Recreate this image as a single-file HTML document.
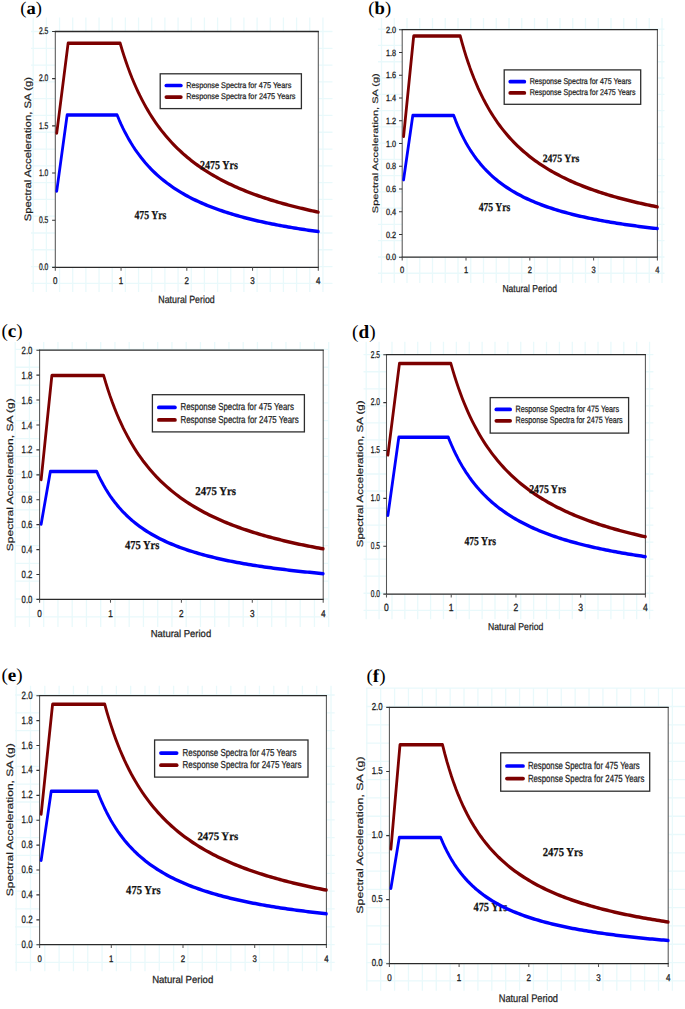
<!DOCTYPE html>
<html><head><meta charset="utf-8"><style>html,body{margin:0;padding:0;background:#fff;width:685px;height:1009px;overflow:hidden}</style></head>
<body><svg width="685" height="1009" viewBox="0 0 685 1009" style="display:block" text-rendering="geometricPrecision"><rect width="685" height="1009" fill="#fff"/><path d="M33.2 17.5V292M46.37 17.5V292M59.54 17.5V292M72.71 17.5V292M85.88 17.5V292M99.05 17.5V292M112.22 17.5V292M125.39 17.5V292M138.56 17.5V292M151.73 17.5V292M164.9 17.5V292M178.07 17.5V292M191.24 17.5V292M204.41 17.5V292M217.58 17.5V292M230.75 17.5V292M243.92 17.5V292M257.09 17.5V292M270.26 17.5V292M283.43 17.5V292M296.6 17.5V292M309.77 17.5V292M322.94 17.5V292M31 31.5H332.5M31 48.29H332.5M31 65.08H332.5M31 81.87H332.5M31 98.66H332.5M31 115.45H332.5M31 132.24H332.5M31 149.03H332.5M31 165.82H332.5M31 182.61H332.5M31 199.4H332.5M31 216.19H332.5M31 232.98H332.5M31 249.77H332.5M31 266.56H332.5M31 283.35H332.5" stroke="#e9f9fb" stroke-width="1.3" fill="none"/><rect x="55.3" y="31.5" width="263" height="235.9" fill="#fff"/><path d="M55.3 31V267.9M318.3 31V267.9" stroke="#555" stroke-width="1.05" fill="none"/><path d="M54.8 31.5H318.8M54.8 267.4H318.8" stroke="#2a2a2a" stroke-width="1.3" fill="none"/><path d="M52.1 267.4H55.3M52.1 220.22H55.3M52.1 173.04H55.3M52.1 125.86H55.3M52.1 78.68H55.3M52.1 31.5H55.3" stroke="#333" stroke-width="1.15" fill="none"/><path d="M55.3 267.4V270.8M121.05 267.4V270.8M186.8 267.4V270.8M252.55 267.4V270.8M318.3 267.4V270.8" stroke="#555" stroke-width="1.05" fill="none"/><g font-family='"Liberation Sans", sans-serif' font-size="9.6" fill="#1e1e1e" stroke="#1e1e1e" stroke-width="0.3"><text x="38.91" y="270.15" textLength="9.3" lengthAdjust="spacingAndGlyphs">0.0</text><text x="38.91" y="222.97" textLength="9.3" lengthAdjust="spacingAndGlyphs">0.5</text><text x="38.91" y="175.79" textLength="9.3" lengthAdjust="spacingAndGlyphs">1.0</text><text x="38.91" y="128.61" textLength="9.3" lengthAdjust="spacingAndGlyphs">1.5</text><text x="38.91" y="81.43" textLength="9.3" lengthAdjust="spacingAndGlyphs">2.0</text><text x="38.91" y="34.25" textLength="9.3" lengthAdjust="spacingAndGlyphs">2.5</text></g><g transform="scale(0.82,1)" font-family='"Liberation Sans", sans-serif' font-size="9.7" fill="#1e1e1e" stroke="#1e1e1e" stroke-width="0.3"><text x="67.44" y="283.84" text-anchor="middle">0</text><text x="147.62" y="283.84" text-anchor="middle">1</text><text x="227.8" y="283.84" text-anchor="middle">2</text><text x="307.99" y="283.84" text-anchor="middle">3</text><text x="388.17" y="283.84" text-anchor="middle">4</text></g><polyline transform="scale(0.8,1)" points="70.93,132.94 85.15,43.2 150.16,43.2 152.64,49.85 155.12,56.12 157.59,62.03 160.07,67.63 162.55,72.92 165.02,77.95 167.5,82.72 169.98,87.25 172.46,91.57 174.93,95.69 177.41,99.62 179.89,103.37 182.36,106.96 184.84,110.39 187.32,113.68 189.8,116.84 192.27,119.87 194.75,122.78 197.23,125.57 199.7,128.26 202.18,130.85 204.66,133.35 207.14,135.76 209.61,138.08 212.09,140.32 214.57,142.48 217.04,144.57 219.52,146.6 222,148.55 224.48,150.45 226.95,152.28 229.43,154.06 231.91,155.79 234.38,157.46 236.86,159.08 239.34,160.66 241.82,162.19 244.29,163.68 246.77,165.13 249.25,166.53 251.72,167.9 254.2,169.23 256.68,170.53 259.16,171.79 261.63,173.02 264.11,174.22 266.59,175.39 269.06,176.53 271.54,177.64 274.02,178.73 276.5,179.79 278.97,180.82 281.45,181.83 283.93,182.82 286.4,183.78 288.88,184.72 291.36,185.65 293.84,186.55 296.31,187.43 298.79,188.29 301.27,189.14 303.74,189.96 306.22,190.77 308.7,191.56 311.18,192.34 313.65,193.1 316.13,193.85 318.61,194.58 321.08,195.29 323.56,195.99 326.04,196.68 328.52,197.36 330.99,198.02 333.47,198.67 335.95,199.31 338.42,199.93 340.9,200.55 343.38,201.15 345.86,201.75 348.33,202.33 350.81,202.9 353.29,203.46 355.76,204.02 358.24,204.56 360.72,205.09 363.2,205.62 365.67,206.13 368.15,206.64 370.63,207.14 373.1,207.63 375.58,208.11 378.06,208.59 380.54,209.06 383.01,209.52 385.49,209.97 387.97,210.42 390.44,210.86 392.92,211.29 395.4,211.72 397.88,212.13" fill="none" stroke="#7c0000" stroke-width="3.5" stroke-linejoin="round" stroke-linecap="round"/><polyline transform="scale(0.8,1)" points="70.93,190.97 83.92,115.01 146.38,115.01 148.9,119.81 151.41,124.32 153.93,128.57 156.44,132.57 158.96,136.34 161.47,139.91 163.99,143.29 166.5,146.5 169.02,149.54 171.53,152.43 174.05,155.19 176.56,157.82 179.08,160.32 181.59,162.72 184.11,165.01 186.62,167.2 189.14,169.3 191.65,171.31 194.17,173.24 196.68,175.1 199.19,176.89 201.71,178.6 204.22,180.26 206.74,181.85 209.25,183.38 211.77,184.86 214.28,186.29 216.8,187.68 219.31,189.01 221.83,190.3 224.34,191.55 226.86,192.76 229.37,193.93 231.89,195.07 234.4,196.17 236.92,197.24 239.43,198.27 241.95,199.28 244.46,200.25 246.98,201.2 249.49,202.13 252.01,203.02 254.52,203.9 257.04,204.75 259.55,205.58 262.07,206.38 264.58,207.17 267.1,207.93 269.61,208.68 272.13,209.4 274.64,210.11 277.16,210.81 279.67,211.48 282.19,212.14 284.7,212.79 287.22,213.42 289.73,214.03 292.25,214.63 294.76,215.22 297.28,215.8 299.79,216.36 302.31,216.91 304.82,217.45 307.34,217.98 309.85,218.49 312.37,219 314.88,219.49 317.4,219.98 319.91,220.46 322.43,220.92 324.94,221.38 327.46,221.83 329.97,222.27 332.49,222.7 335,223.12 337.52,223.53 340.03,223.94 342.55,224.34 345.06,224.73 347.58,225.12 350.09,225.5 352.61,225.87 355.12,226.23 357.64,226.59 360.15,226.95 362.67,227.29 365.18,227.63 367.7,227.97 370.21,228.3 372.73,228.62 375.24,228.94 377.76,229.25 380.27,229.56 382.79,229.87 385.3,230.16 387.82,230.46 390.33,230.75 392.85,231.03 395.36,231.31 397.88,231.59" fill="none" stroke="#0000ff" stroke-width="3.5" stroke-linejoin="round" stroke-linecap="round"/><rect x="160.2" y="73.8" width="141.2" height="34.8" fill="#fff" stroke="#2e2e2e" stroke-width="1.3"/><line x1="166.35" y1="85.5" x2="180.85" y2="85.5" stroke="#0000ff" stroke-width="3.7" stroke-linecap="round"/><line x1="166.35" y1="97.1" x2="180.85" y2="97.1" stroke="#7c0000" stroke-width="3.7" stroke-linecap="round"/><text x="186.16" y="87.75" font-family='"Liberation Sans", sans-serif' font-size="8.28" font-weight="normal" fill="#1e1e1e" stroke="#1e1e1e" stroke-width="0.25" textLength="105.16" lengthAdjust="spacingAndGlyphs">Response Spectra for 475 Years</text><text x="186.15" y="99.35" font-family='"Liberation Sans", sans-serif' font-size="8.28" font-weight="normal" fill="#1e1e1e" stroke="#1e1e1e" stroke-width="0.25" textLength="109.36" lengthAdjust="spacingAndGlyphs">Response Spectra for 2475 Years</text><text x="200.03" y="168.79" font-family='"Liberation Serif", serif' font-size="12.14" font-weight="bold" fill="#111" stroke="#111" stroke-width="0.25" textLength="37.86" lengthAdjust="spacingAndGlyphs">2475 Yrs</text><text x="134.42" y="219.49" font-family='"Liberation Serif", serif' font-size="12.22" font-weight="bold" fill="#111" stroke="#111" stroke-width="0.25" textLength="31.97" lengthAdjust="spacingAndGlyphs">475 Yrs</text><text x="158.33" y="303.49" font-family='"Liberation Sans", sans-serif' font-size="10.38" font-weight="normal" fill="#1e1e1e" stroke="#1e1e1e" stroke-width="0.25" textLength="56.39" lengthAdjust="spacingAndGlyphs">Natural Period</text><text transform="translate(31.05,221.36) scale(0.83,1) rotate(-90)" x="0" y="0" font-family='"Liberation Sans", sans-serif' font-size="11.25" fill="#1e1e1e" stroke="#1e1e1e" stroke-width="0.25" textLength="144.41" lengthAdjust="spacingAndGlyphs">Spectral Acceleration, SA (g)</text><text x="20.23" y="13.65" font-family='"Liberation Serif", serif' font-size="17.86" fill="#000" textLength="21.63" lengthAdjust="spacingAndGlyphs">(<tspan font-weight="bold">a</tspan>)</text><path d="M381.5 18V283M394.25 18V283M407 18V283M419.75 18V283M432.5 18V283M445.25 18V283M458 18V283M470.75 18V283M483.5 18V283M496.25 18V283M509 18V283M521.75 18V283M534.5 18V283M547.25 18V283M560 18V283M572.75 18V283M585.5 18V283M598.25 18V283M611 18V283M623.75 18V283M636.5 18V283M649.25 18V283M662 18V283M378 29.2H664.5M378 45.47H664.5M378 61.74H664.5M378 78.01H664.5M378 94.28H664.5M378 110.55H664.5M378 126.82H664.5M378 143.09H664.5M378 159.36H664.5M378 175.63H664.5M378 191.9H664.5M378 208.17H664.5M378 224.44H664.5M378 240.71H664.5M378 256.98H664.5M378 273.25H664.5" stroke="#e9f9fb" stroke-width="1.3" fill="none"/><rect x="402.2" y="29.7" width="255.2" height="227.5" fill="#fff"/><path d="M402.2 29.2V257.7M657.4 29.2V257.7" stroke="#555" stroke-width="1.05" fill="none"/><path d="M401.7 29.7H657.9M401.7 257.2H657.9" stroke="#2a2a2a" stroke-width="1.3" fill="none"/><path d="M399 257.2H402.2M399 234.45H402.2M399 211.7H402.2M399 188.95H402.2M399 166.2H402.2M399 143.45H402.2M399 120.7H402.2M399 97.95H402.2M399 75.2H402.2M399 52.45H402.2M399 29.7H402.2" stroke="#333" stroke-width="1.15" fill="none"/><path d="M402.2 257.2V260.6M466 257.2V260.6M529.8 257.2V260.6M593.6 257.2V260.6M657.4 257.2V260.6" stroke="#555" stroke-width="1.05" fill="none"/><g font-family='"Liberation Sans", sans-serif' font-size="9" fill="#1e1e1e" stroke="#1e1e1e" stroke-width="0.3"><text x="385.88" y="260.34" textLength="10.15" lengthAdjust="spacingAndGlyphs">0.0</text><text x="385.88" y="237.59" textLength="10.15" lengthAdjust="spacingAndGlyphs">0.2</text><text x="385.88" y="214.84" textLength="10.15" lengthAdjust="spacingAndGlyphs">0.4</text><text x="385.88" y="192.09" textLength="10.15" lengthAdjust="spacingAndGlyphs">0.6</text><text x="385.88" y="169.34" textLength="10.15" lengthAdjust="spacingAndGlyphs">0.8</text><text x="385.88" y="146.59" textLength="10.15" lengthAdjust="spacingAndGlyphs">1.0</text><text x="385.88" y="123.84" textLength="10.15" lengthAdjust="spacingAndGlyphs">1.2</text><text x="385.88" y="101.09" textLength="10.15" lengthAdjust="spacingAndGlyphs">1.4</text><text x="385.88" y="78.34" textLength="10.15" lengthAdjust="spacingAndGlyphs">1.6</text><text x="385.88" y="55.59" textLength="10.15" lengthAdjust="spacingAndGlyphs">1.8</text><text x="385.88" y="32.84" textLength="10.15" lengthAdjust="spacingAndGlyphs">2.0</text></g><g transform="scale(0.82,1)" font-family='"Liberation Sans", sans-serif' font-size="9.2" fill="#1e1e1e" stroke="#1e1e1e" stroke-width="0.3"><text x="490.49" y="272.81" text-anchor="middle">0</text><text x="568.29" y="272.81" text-anchor="middle">1</text><text x="646.1" y="272.81" text-anchor="middle">2</text><text x="723.9" y="272.81" text-anchor="middle">3</text><text x="801.71" y="272.81" text-anchor="middle">4</text></g><polyline transform="scale(0.8,1)" points="504.5,136.28 517.1,36.07 575.32,36.07 577.79,43.33 580.25,50.13 582.72,56.51 585.18,62.51 587.64,68.16 590.11,73.5 592.57,78.54 595.04,83.31 597.5,87.83 599.97,92.12 602.43,96.2 604.89,100.09 607.36,103.79 609.82,107.32 612.29,110.69 614.75,113.92 617.22,117 619.68,119.96 622.14,122.79 624.61,125.51 627.07,128.12 629.54,130.63 632,133.04 634.47,135.36 636.93,137.6 639.39,139.76 641.86,141.84 644.32,143.84 646.79,145.78 649.25,147.66 651.72,149.47 654.18,151.22 656.64,152.92 659.11,154.56 661.57,156.16 664.04,157.7 666.5,159.2 668.96,160.65 671.43,162.06 673.89,163.43 676.36,164.76 678.82,166.06 681.29,167.31 683.75,168.54 686.21,169.73 688.68,170.89 691.14,172.02 693.61,173.12 696.07,174.19 698.54,175.23 701,176.25 703.46,177.25 705.93,178.22 708.39,179.16 710.86,180.09 713.32,180.99 715.79,181.87 718.25,182.73 720.71,183.57 723.18,184.4 725.64,185.2 728.11,185.99 730.57,186.76 733.04,187.51 735.5,188.25 737.96,188.97 740.43,189.68 742.89,190.37 745.36,191.05 747.82,191.72 750.29,192.37 752.75,193.01 755.21,193.63 757.68,194.25 760.14,194.85 762.61,195.44 765.07,196.02 767.54,196.59 770,197.15 772.46,197.7 774.93,198.24 777.39,198.77 779.86,199.29 782.32,199.8 784.79,200.3 787.25,200.79 789.71,201.28 792.18,201.75 794.64,202.22 797.11,202.68 799.57,203.13 802.04,203.58 804.5,204.02 806.96,204.45 809.43,204.87 811.89,205.29 814.36,205.7 816.82,206.1 819.29,206.5 821.75,206.89" fill="none" stroke="#7c0000" stroke-width="3.5" stroke-linejoin="round" stroke-linecap="round"/><polyline transform="scale(0.8,1)" points="504.5,179.62 515.99,115.47 567.11,115.47 569.65,120.86 572.2,125.86 574.75,130.51 577.29,134.83 579.84,138.88 582.39,142.66 584.93,146.21 587.48,149.54 590.03,152.68 592.57,155.65 595.12,158.45 597.67,161.1 600.21,163.61 602.76,165.99 605.3,168.26 607.85,170.41 610.4,172.46 612.94,174.42 615.49,176.29 618.04,178.08 620.58,179.79 623.13,181.43 625.68,183 628.22,184.5 630.77,185.95 633.32,187.34 635.86,188.67 638.41,189.96 640.95,191.2 643.5,192.39 646.05,193.54 648.59,194.66 651.14,195.73 653.69,196.77 656.23,197.77 658.78,198.74 661.33,199.68 663.87,200.59 666.42,201.47 668.96,202.32 671.51,203.15 674.06,203.95 676.6,204.73 679.15,205.49 681.7,206.23 684.24,206.94 686.79,207.64 689.34,208.31 691.88,208.97 694.43,209.61 696.98,210.24 699.52,210.84 702.07,211.44 704.61,212.01 707.16,212.58 709.71,213.13 712.25,213.66 714.8,214.18 717.35,214.69 719.89,215.19 722.44,215.68 724.99,216.16 727.53,216.62 730.08,217.07 732.63,217.52 735.17,217.95 737.72,218.38 740.26,218.8 742.81,219.2 745.36,219.6 747.9,219.99 750.45,220.37 753,220.75 755.54,221.12 758.09,221.48 760.64,221.83 763.18,222.17 765.73,222.51 768.28,222.85 770.82,223.17 773.37,223.49 775.91,223.81 778.46,224.12 781.01,224.42 783.55,224.72 786.1,225.01 788.65,225.29 791.19,225.58 793.74,225.85 796.29,226.12 798.83,226.39 801.38,226.65 803.93,226.91 806.47,227.17 809.02,227.42 811.56,227.66 814.11,227.9 816.66,228.14 819.2,228.38 821.75,228.61" fill="none" stroke="#0000ff" stroke-width="3.5" stroke-linejoin="round" stroke-linecap="round"/><rect x="504.2" y="69.9" width="136.5" height="34.4" fill="#fff" stroke="#2e2e2e" stroke-width="1.3"/><line x1="510.25" y1="81.7" x2="524.35" y2="81.7" stroke="#0000ff" stroke-width="3.7" stroke-linecap="round"/><line x1="510.25" y1="92.95" x2="524.35" y2="92.95" stroke="#7c0000" stroke-width="3.7" stroke-linecap="round"/><text x="529.68" y="84" font-family='"Liberation Sans", sans-serif' font-size="8.43" font-weight="normal" fill="#1e1e1e" stroke="#1e1e1e" stroke-width="0.25" textLength="101.63" lengthAdjust="spacingAndGlyphs">Response Spectra for 475 Years</text><text x="529.67" y="95.25" font-family='"Liberation Sans", sans-serif' font-size="8.43" font-weight="normal" fill="#1e1e1e" stroke="#1e1e1e" stroke-width="0.25" textLength="105.83" lengthAdjust="spacingAndGlyphs">Response Spectra for 2475 Years</text><text x="542.64" y="161.99" font-family='"Liberation Serif", serif' font-size="11.24" font-weight="bold" fill="#111" stroke="#111" stroke-width="0.25" textLength="36.74" lengthAdjust="spacingAndGlyphs">2475 Yrs</text><text x="478.72" y="210.99" font-family='"Liberation Serif", serif' font-size="12.22" font-weight="bold" fill="#111" stroke="#111" stroke-width="0.25" textLength="31.56" lengthAdjust="spacingAndGlyphs">475 Yrs</text><text x="502.45" y="292.39" font-family='"Liberation Sans", sans-serif' font-size="10.09" font-weight="normal" fill="#1e1e1e" stroke="#1e1e1e" stroke-width="0.25" textLength="54.55" lengthAdjust="spacingAndGlyphs">Natural Period</text><text transform="translate(378.05,213.14) scale(0.73,1) rotate(-90)" x="0" y="0" font-family='"Liberation Sans", sans-serif' font-size="10.89" fill="#1e1e1e" stroke="#1e1e1e" stroke-width="0.25" textLength="139.87" lengthAdjust="spacingAndGlyphs">Spectral Acceleration, SA (g)</text><text x="368.33" y="14" font-family='"Liberation Serif", serif' font-size="17.86" fill="#000" textLength="22.85" lengthAdjust="spacingAndGlyphs">(<tspan font-weight="bold">b</tspan>)</text><path d="M15.2 342V627M29.45 342V627M43.7 342V627M57.95 342V627M72.2 342V627M86.45 342V627M100.7 342V627M114.95 342V627M129.2 342V627M143.45 342V627M157.7 342V627M171.95 342V627M186.2 342V627M200.45 342V627M214.7 342V627M228.95 342V627M243.2 342V627M257.45 342V627M271.7 342V627M285.95 342V627M300.2 342V627M314.45 342V627M328.7 342V627M15 349.4H329M15 367.23H329M15 385.06H329M15 402.89H329M15 420.72H329M15 438.55H329M15 456.38H329M15 474.21H329M15 492.04H329M15 509.87H329M15 527.7H329M15 545.53H329M15 563.36H329M15 581.19H329M15 599.02H329M15 616.85H329" stroke="#e9f9fb" stroke-width="1.3" fill="none"/><rect x="39.6" y="350.2" width="283.6" height="249.2" fill="#fff"/><path d="M39.6 349.7V599.9M323.2 349.7V599.9" stroke="#555" stroke-width="1.05" fill="none"/><path d="M39.1 350.2H323.7M39.1 599.4H323.7" stroke="#2a2a2a" stroke-width="1.3" fill="none"/><path d="M36.4 599.4H39.6M36.4 574.48H39.6M36.4 549.56H39.6M36.4 524.64H39.6M36.4 499.72H39.6M36.4 474.8H39.6M36.4 449.88H39.6M36.4 424.96H39.6M36.4 400.04H39.6M36.4 375.12H39.6M36.4 350.2H39.6" stroke="#333" stroke-width="1.15" fill="none"/><path d="M39.6 599.4V602.8M110.5 599.4V602.8M181.4 599.4V602.8M252.3 599.4V602.8M323.2 599.4V602.8" stroke="#555" stroke-width="1.05" fill="none"/><g font-family='"Liberation Sans", sans-serif' font-size="10.5" fill="#1e1e1e" stroke="#1e1e1e" stroke-width="0.3"><text x="21.61" y="602.96" textLength="10.79" lengthAdjust="spacingAndGlyphs">0.0</text><text x="21.61" y="578.04" textLength="10.79" lengthAdjust="spacingAndGlyphs">0.2</text><text x="21.61" y="553.12" textLength="10.79" lengthAdjust="spacingAndGlyphs">0.4</text><text x="21.61" y="528.2" textLength="10.79" lengthAdjust="spacingAndGlyphs">0.6</text><text x="21.61" y="503.28" textLength="10.79" lengthAdjust="spacingAndGlyphs">0.8</text><text x="21.61" y="478.36" textLength="10.79" lengthAdjust="spacingAndGlyphs">1.0</text><text x="21.61" y="453.44" textLength="10.79" lengthAdjust="spacingAndGlyphs">1.2</text><text x="21.61" y="428.52" textLength="10.79" lengthAdjust="spacingAndGlyphs">1.4</text><text x="21.61" y="403.6" textLength="10.79" lengthAdjust="spacingAndGlyphs">1.6</text><text x="21.61" y="378.68" textLength="10.79" lengthAdjust="spacingAndGlyphs">1.8</text><text x="21.61" y="353.76" textLength="10.79" lengthAdjust="spacingAndGlyphs">2.0</text></g><g transform="scale(0.82,1)" font-family='"Liberation Sans", sans-serif' font-size="10" fill="#1e1e1e" stroke="#1e1e1e" stroke-width="0.3"><text x="48.29" y="616.74" text-anchor="middle">0</text><text x="134.76" y="616.74" text-anchor="middle">1</text><text x="221.22" y="616.74" text-anchor="middle">2</text><text x="307.68" y="616.74" text-anchor="middle">3</text><text x="394.15" y="616.74" text-anchor="middle">4</text></g><polyline transform="scale(0.8,1)" points="51.45,479.41 64.83,375.49 129.53,375.49 132.27,382.92 135.02,389.87 137.76,396.38 140.51,402.51 143.25,408.27 146,413.71 148.74,418.84 151.49,423.7 154.23,428.31 156.98,432.68 159.72,436.83 162.46,440.78 165.21,444.54 167.95,448.13 170.7,451.55 173.44,454.83 176.19,457.96 178.93,460.96 181.68,463.83 184.42,466.59 187.17,469.24 189.91,471.78 192.66,474.23 195.4,476.59 198.15,478.85 200.89,481.04 203.64,483.15 206.38,485.18 209.13,487.14 211.87,489.04 214.61,490.88 217.36,492.65 220.1,494.37 222.85,496.03 225.59,497.64 228.34,499.2 231.08,500.72 233.83,502.19 236.57,503.61 239.32,505 242.06,506.34 244.81,507.65 247.55,508.92 250.3,510.16 253.04,511.36 255.79,512.54 258.53,513.68 261.27,514.79 264.02,515.87 266.76,516.93 269.51,517.95 272.25,518.96 275,519.94 277.74,520.89 280.49,521.83 283.23,522.74 285.98,523.63 288.72,524.5 291.47,525.34 294.21,526.18 296.96,526.99 299.7,527.78 302.45,528.56 305.19,529.32 307.93,530.06 310.68,530.79 313.42,531.51 316.17,532.2 318.91,532.89 321.66,533.56 324.4,534.22 327.15,534.86 329.89,535.49 332.64,536.11 335.38,536.72 338.13,537.32 340.87,537.9 343.62,538.48 346.36,539.04 349.11,539.59 351.85,540.13 354.6,540.67 357.34,541.19 360.08,541.71 362.83,542.21 365.57,542.71 368.32,543.2 371.06,543.68 373.81,544.15 376.55,544.61 379.3,545.07 382.04,545.52 384.79,545.96 387.53,546.39 390.28,546.82 393.02,547.24 395.77,547.65 398.51,548.06 401.26,548.46 404,548.85" fill="none" stroke="#7c0000" stroke-width="3.5" stroke-linejoin="round" stroke-linecap="round"/><polyline transform="scale(0.8,1)" points="51.45,524.02 62.97,471.44 120.84,471.44 123.67,476.32 126.51,480.85 129.34,485.05 132.17,488.97 135,492.63 137.83,496.05 140.66,499.26 143.5,502.27 146.33,505.11 149.16,507.79 151.99,510.32 154.82,512.72 157.65,514.99 160.49,517.14 163.32,519.19 166.15,521.14 168.98,522.99 171.81,524.76 174.64,526.45 177.47,528.06 180.31,529.61 183.14,531.09 185.97,532.5 188.8,533.86 191.63,535.17 194.46,536.42 197.3,537.63 200.13,538.79 202.96,539.91 205.79,540.99 208.62,542.03 211.45,543.03 214.28,544 217.12,544.93 219.95,545.84 222.78,546.71 225.61,547.56 228.44,548.38 231.27,549.18 234.11,549.95 236.94,550.69 239.77,551.42 242.6,552.12 245.43,552.81 248.26,553.47 251.1,554.11 253.93,554.74 256.76,555.35 259.59,555.95 262.42,556.52 265.25,557.09 268.08,557.63 270.92,558.17 273.75,558.69 276.58,559.2 279.41,559.69 282.24,560.17 285.07,560.65 287.91,561.11 290.74,561.56 293.57,562 296.4,562.42 299.23,562.84 302.06,563.25 304.9,563.65 307.73,564.05 310.56,564.43 313.39,564.8 316.22,565.17 319.05,565.53 321.88,565.88 324.72,566.23 327.55,566.57 330.38,566.9 333.21,567.22 336.04,567.54 338.87,567.85 341.71,568.16 344.54,568.46 347.37,568.75 350.2,569.04 353.03,569.32 355.86,569.6 358.69,569.87 361.53,570.14 364.36,570.4 367.19,570.66 370.02,570.92 372.85,571.17 375.68,571.41 378.52,571.65 381.35,571.89 384.18,572.12 387.01,572.35 389.84,572.58 392.67,572.8 395.51,573.01 398.34,573.23 401.17,573.44 404,573.65" fill="none" stroke="#0000ff" stroke-width="3.5" stroke-linejoin="round" stroke-linecap="round"/><rect x="152.4" y="394.7" width="152" height="37.2" fill="#fff" stroke="#2e2e2e" stroke-width="1.3"/><line x1="158.85" y1="407.4" x2="174.95" y2="407.4" stroke="#0000ff" stroke-width="3.7" stroke-linecap="round"/><line x1="158.85" y1="419.9" x2="174.95" y2="419.9" stroke="#7c0000" stroke-width="3.7" stroke-linecap="round"/><text x="180.51" y="410.3" font-family='"Liberation Sans", sans-serif' font-size="10.17" font-weight="normal" fill="#1e1e1e" stroke="#1e1e1e" stroke-width="0.25" textLength="113.32" lengthAdjust="spacingAndGlyphs">Response Spectra for 475 Years</text><text x="180.51" y="422.8" font-family='"Liberation Sans", sans-serif' font-size="10.17" font-weight="normal" fill="#1e1e1e" stroke="#1e1e1e" stroke-width="0.25" textLength="118.13" lengthAdjust="spacingAndGlyphs">Response Spectra for 2475 Years</text><text x="195.3" y="495.29" font-family='"Liberation Serif", serif' font-size="11.99" font-weight="bold" fill="#111" stroke="#111" stroke-width="0.25" textLength="40.71" lengthAdjust="spacingAndGlyphs">2475 Yrs</text><text x="124.91" y="548.89" font-family='"Liberation Serif", serif' font-size="12.22" font-weight="bold" fill="#111" stroke="#111" stroke-width="0.25" textLength="34.5" lengthAdjust="spacingAndGlyphs">475 Yrs</text><text x="150.67" y="637.39" font-family='"Liberation Sans", sans-serif' font-size="10.09" font-weight="normal" fill="#1e1e1e" stroke="#1e1e1e" stroke-width="0.25" textLength="60.49" lengthAdjust="spacingAndGlyphs">Natural Period</text><text transform="translate(12.75,551.19) scale(0.75,1) rotate(-90)" x="0" y="0" font-family='"Liberation Sans", sans-serif' font-size="11.92" fill="#1e1e1e" stroke="#1e1e1e" stroke-width="0.25" textLength="152.98" lengthAdjust="spacingAndGlyphs">Spectral Acceleration, SA (g)</text><text x="1.51" y="337.2" font-family='"Liberation Serif", serif' font-size="18.63" fill="#000" textLength="21.18" lengthAdjust="spacingAndGlyphs">(<tspan font-weight="bold">c</tspan>)</text><path d="M366.2 341.7V619.2M379.08 341.7V619.2M391.96 341.7V619.2M404.84 341.7V619.2M417.72 341.7V619.2M430.6 341.7V619.2M443.48 341.7V619.2M456.36 341.7V619.2M469.24 341.7V619.2M482.12 341.7V619.2M495 341.7V619.2M507.88 341.7V619.2M520.76 341.7V619.2M533.64 341.7V619.2M546.52 341.7V619.2M559.4 341.7V619.2M572.28 341.7V619.2M585.16 341.7V619.2M598.04 341.7V619.2M610.92 341.7V619.2M623.8 341.7V619.2M636.68 341.7V619.2M649.56 341.7V619.2M363.5 354.7H653.4M363.5 371.74H653.4M363.5 388.78H653.4M363.5 405.82H653.4M363.5 422.86H653.4M363.5 439.9H653.4M363.5 456.94H653.4M363.5 473.98H653.4M363.5 491.02H653.4M363.5 508.06H653.4M363.5 525.1H653.4M363.5 542.14H653.4M363.5 559.18H653.4M363.5 576.22H653.4M363.5 593.26H653.4M363.5 610.3H653.4" stroke="#e9f9fb" stroke-width="1.3" fill="none"/><rect x="386.5" y="354.7" width="258.9" height="239.4" fill="#fff"/><path d="M386.5 354.2V594.6M645.4 354.2V594.6" stroke="#555" stroke-width="1.05" fill="none"/><path d="M386 354.7H645.9M386 594.1H645.9" stroke="#2a2a2a" stroke-width="1.3" fill="none"/><path d="M383.3 594.1H386.5M383.3 546.22H386.5M383.3 498.34H386.5M383.3 450.46H386.5M383.3 402.58H386.5M383.3 354.7H386.5" stroke="#333" stroke-width="1.15" fill="none"/><path d="M386.5 594.1V597.5M451.23 594.1V597.5M515.95 594.1V597.5M580.67 594.1V597.5M645.4 594.1V597.5" stroke="#555" stroke-width="1.05" fill="none"/><g font-family='"Liberation Sans", sans-serif' font-size="9.9" fill="#1e1e1e" stroke="#1e1e1e" stroke-width="0.3"><text x="370.82" y="596.96" textLength="9.19" lengthAdjust="spacingAndGlyphs">0.0</text><text x="370.82" y="549.08" textLength="9.19" lengthAdjust="spacingAndGlyphs">0.5</text><text x="370.82" y="501.2" textLength="9.19" lengthAdjust="spacingAndGlyphs">1.0</text><text x="370.82" y="453.32" textLength="9.19" lengthAdjust="spacingAndGlyphs">1.5</text><text x="370.82" y="405.44" textLength="9.19" lengthAdjust="spacingAndGlyphs">2.0</text><text x="370.82" y="357.56" textLength="9.19" lengthAdjust="spacingAndGlyphs">2.5</text></g><g transform="scale(0.82,1)" font-family='"Liberation Sans", sans-serif' font-size="10.4" fill="#1e1e1e" stroke="#1e1e1e" stroke-width="0.3"><text x="471.34" y="610.73" text-anchor="middle">0</text><text x="550.27" y="610.73" text-anchor="middle">1</text><text x="629.21" y="610.73" text-anchor="middle">2</text><text x="708.14" y="610.73" text-anchor="middle">3</text><text x="787.07" y="610.73" text-anchor="middle">4</text></g><polyline transform="scale(0.8,1)" points="484.9,454.86 499.31,363.51 563.55,363.51 565.98,370.28 568.41,376.66 570.84,382.69 573.27,388.39 575.71,393.8 578.14,398.92 580.57,403.8 583,408.43 585.43,412.84 587.87,417.05 590.3,421.07 592.73,424.91 595.16,428.58 597.59,432.1 600.03,435.47 602.46,438.7 604.89,441.81 607.32,444.79 609.75,447.66 612.19,450.41 614.62,453.07 617.05,455.63 619.48,458.1 621.91,460.49 624.35,462.79 626.78,465.01 629.21,467.16 631.64,469.24 634.08,471.25 636.51,473.2 638.94,475.08 641.37,476.91 643.8,478.69 646.24,480.41 648.67,482.08 651.1,483.7 653.53,485.28 655.96,486.81 658.4,488.3 660.83,489.74 663.26,491.15 665.69,492.52 668.12,493.86 670.56,495.16 672.99,496.43 675.42,497.66 677.85,498.87 680.28,500.04 682.72,501.19 685.15,502.31 687.58,503.4 690.01,504.47 692.44,505.51 694.88,506.52 697.31,507.52 699.74,508.49 702.17,509.44 704.6,510.37 707.04,511.28 709.47,512.17 711.9,513.04 714.33,513.89 716.76,514.73 719.2,515.55 721.63,516.35 724.06,517.13 726.49,517.9 728.92,518.66 731.36,519.39 733.79,520.12 736.22,520.83 738.65,521.53 741.08,522.21 743.52,522.88 745.95,523.54 748.38,524.19 750.81,524.82 753.25,525.45 755.68,526.06 758.11,526.66 760.54,527.25 762.97,527.83 765.41,528.41 767.84,528.97 770.27,529.52 772.7,530.06 775.13,530.59 777.57,531.12 780,531.63 782.43,532.14 784.86,532.64 787.29,533.13 789.73,533.62 792.16,534.09 794.59,534.56 797.02,535.02 799.45,535.48 801.89,535.92 804.32,536.36 806.75,536.8" fill="none" stroke="#7c0000" stroke-width="3.5" stroke-linejoin="round" stroke-linecap="round"/><polyline transform="scale(0.8,1)" points="484.9,515.29 498.5,437.34 560.39,437.34 562.85,442.18 565.32,446.74 567.78,451.03 570.24,455.07 572.71,458.9 575.17,462.51 577.64,465.94 580.1,469.2 582.56,472.29 585.03,475.24 587.49,478.05 589.95,480.72 592.42,483.28 594.88,485.72 597.34,488.06 599.81,490.3 602.27,492.44 604.74,494.5 607.2,496.48 609.66,498.38 612.13,500.21 614.59,501.97 617.05,503.66 619.52,505.3 621.98,506.87 624.44,508.39 626.91,509.86 629.37,511.28 631.83,512.65 634.3,513.98 636.76,515.26 639.23,516.51 641.69,517.71 644.15,518.88 646.62,520.02 649.08,521.12 651.54,522.18 654.01,523.22 656.47,524.23 658.93,525.21 661.4,526.16 663.86,527.08 666.33,527.99 668.79,528.86 671.25,529.72 673.72,530.55 676.18,531.36 678.64,532.15 681.11,532.92 683.57,533.67 686.03,534.41 688.5,535.12 690.96,535.82 693.42,536.51 695.89,537.17 698.35,537.82 700.82,538.46 703.28,539.08 705.74,539.69 708.21,540.29 710.67,540.87 713.13,541.44 715.6,542 718.06,542.55 720.52,543.08 722.99,543.6 725.45,544.12 727.91,544.62 730.38,545.11 732.84,545.6 735.31,546.07 737.77,546.54 740.23,546.99 742.7,547.44 745.16,547.88 747.62,548.31 750.09,548.73 752.55,549.14 755.01,549.55 757.48,549.95 759.94,550.35 762.41,550.73 764.87,551.11 767.33,551.48 769.8,551.85 772.26,552.21 774.72,552.56 777.19,552.91 779.65,553.25 782.11,553.59 784.58,553.92 787.04,554.25 789.5,554.57 791.97,554.88 794.43,555.19 796.9,555.5 799.36,555.8 801.82,556.1 804.29,556.39 806.75,556.67" fill="none" stroke="#0000ff" stroke-width="3.5" stroke-linejoin="round" stroke-linecap="round"/><rect x="490.2" y="397.6" width="138.4" height="35.5" fill="#fff" stroke="#2e2e2e" stroke-width="1.3"/><line x1="496.35" y1="409.4" x2="510.15" y2="409.4" stroke="#0000ff" stroke-width="3.7" stroke-linecap="round"/><line x1="496.35" y1="420.8" x2="510.15" y2="420.8" stroke="#7c0000" stroke-width="3.7" stroke-linecap="round"/><text x="515.46" y="411.95" font-family='"Liberation Sans", sans-serif' font-size="9.16" font-weight="normal" fill="#1e1e1e" stroke="#1e1e1e" stroke-width="0.25" textLength="103.64" lengthAdjust="spacingAndGlyphs">Response Spectra for 475 Years</text><text x="515.47" y="423.35" font-family='"Liberation Sans", sans-serif' font-size="9.16" font-weight="normal" fill="#1e1e1e" stroke="#1e1e1e" stroke-width="0.25" textLength="107.14" lengthAdjust="spacingAndGlyphs">Response Spectra for 2475 Years</text><text x="529.24" y="493.49" font-family='"Liberation Serif", serif' font-size="11.99" font-weight="bold" fill="#111" stroke="#111" stroke-width="0.25" textLength="36.84" lengthAdjust="spacingAndGlyphs">2475 Yrs</text><text x="464.42" y="545.09" font-family='"Liberation Serif", serif' font-size="12.06" font-weight="bold" fill="#111" stroke="#111" stroke-width="0.25" textLength="31.56" lengthAdjust="spacingAndGlyphs">475 Yrs</text><text x="488.04" y="630.19" font-family='"Liberation Sans", sans-serif' font-size="9.94" font-weight="normal" fill="#1e1e1e" stroke="#1e1e1e" stroke-width="0.25" textLength="55.27" lengthAdjust="spacingAndGlyphs">Natural Period</text><text transform="translate(362.75,547.27) scale(0.78,1) rotate(-90)" x="0" y="0" font-family='"Liberation Sans", sans-serif' font-size="11.44" fill="#1e1e1e" stroke="#1e1e1e" stroke-width="0.25" textLength="146.83" lengthAdjust="spacingAndGlyphs">Spectral Acceleration, SA (g)</text><text x="352.1" y="337.5" font-family='"Liberation Serif", serif' font-size="18.63" fill="#000" textLength="23.49" lengthAdjust="spacingAndGlyphs">(<tspan font-weight="bold">d</tspan>)</text><path d="M16.2 685.8V971.2M30.51 685.8V971.2M44.82 685.8V971.2M59.13 685.8V971.2M73.44 685.8V971.2M87.75 685.8V971.2M102.06 685.8V971.2M116.37 685.8V971.2M130.68 685.8V971.2M144.99 685.8V971.2M159.3 685.8V971.2M173.61 685.8V971.2M187.92 685.8V971.2M202.23 685.8V971.2M216.54 685.8V971.2M230.85 685.8V971.2M245.16 685.8V971.2M259.47 685.8V971.2M273.78 685.8V971.2M288.09 685.8V971.2M302.4 685.8V971.2M316.71 685.8V971.2M331.02 685.8V971.2M15 695H334.7M15 712.83H334.7M15 730.66H334.7M15 748.49H334.7M15 766.32H334.7M15 784.15H334.7M15 801.98H334.7M15 819.81H334.7M15 837.64H334.7M15 855.47H334.7M15 873.3H334.7M15 891.13H334.7M15 908.96H334.7M15 926.79H334.7M15 944.62H334.7M15 962.45H334.7" stroke="#e9f9fb" stroke-width="1.3" fill="none"/><rect x="39.6" y="695.7" width="286.8" height="249" fill="#fff"/><path d="M39.6 695.2V945.2M326.4 695.2V945.2" stroke="#555" stroke-width="1.05" fill="none"/><path d="M39.1 695.7H326.9M39.1 944.7H326.9" stroke="#2a2a2a" stroke-width="1.3" fill="none"/><path d="M36.4 944.7H39.6M36.4 919.8H39.6M36.4 894.9H39.6M36.4 870H39.6M36.4 845.1H39.6M36.4 820.2H39.6M36.4 795.3H39.6M36.4 770.4H39.6M36.4 745.5H39.6M36.4 720.6H39.6M36.4 695.7H39.6" stroke="#333" stroke-width="1.15" fill="none"/><path d="M39.6 944.7V948.1M111.3 944.7V948.1M183 944.7V948.1M254.7 944.7V948.1M326.4 944.7V948.1" stroke="#555" stroke-width="1.05" fill="none"/><g font-family='"Liberation Sans", sans-serif' font-size="10.7" fill="#1e1e1e" stroke="#1e1e1e" stroke-width="0.3"><text x="21.6" y="947.73" textLength="10.95" lengthAdjust="spacingAndGlyphs">0.0</text><text x="21.6" y="922.83" textLength="10.95" lengthAdjust="spacingAndGlyphs">0.2</text><text x="21.6" y="897.93" textLength="10.95" lengthAdjust="spacingAndGlyphs">0.4</text><text x="21.6" y="873.03" textLength="10.95" lengthAdjust="spacingAndGlyphs">0.6</text><text x="21.6" y="848.13" textLength="10.95" lengthAdjust="spacingAndGlyphs">0.8</text><text x="21.6" y="823.23" textLength="10.95" lengthAdjust="spacingAndGlyphs">1.0</text><text x="21.6" y="798.33" textLength="10.95" lengthAdjust="spacingAndGlyphs">1.2</text><text x="21.6" y="773.43" textLength="10.95" lengthAdjust="spacingAndGlyphs">1.4</text><text x="21.6" y="748.53" textLength="10.95" lengthAdjust="spacingAndGlyphs">1.6</text><text x="21.6" y="723.63" textLength="10.95" lengthAdjust="spacingAndGlyphs">1.8</text><text x="21.6" y="698.73" textLength="10.95" lengthAdjust="spacingAndGlyphs">2.0</text></g><g transform="scale(0.82,1)" font-family='"Liberation Sans", sans-serif' font-size="9.5" fill="#1e1e1e" stroke="#1e1e1e" stroke-width="0.3"><text x="48.29" y="961.72" text-anchor="middle">0</text><text x="135.73" y="961.72" text-anchor="middle">1</text><text x="223.17" y="961.72" text-anchor="middle">2</text><text x="310.61" y="961.72" text-anchor="middle">3</text><text x="398.05" y="961.72" text-anchor="middle">4</text></g><polyline transform="scale(0.8,1)" points="51.47,813.98 65.72,704.17 130.88,704.17 133.65,712.09 136.42,719.5 139.19,726.46 141.96,733 144.74,739.16 147.51,744.97 150.28,750.47 153.05,755.66 155.82,760.59 158.59,765.27 161.36,769.71 164.13,773.94 166.91,777.97 169.68,781.82 172.45,785.49 175.22,789 177.99,792.36 180.76,795.57 183.53,798.66 186.3,801.62 189.07,804.46 191.85,807.19 194.62,809.81 197.39,812.34 200.16,814.77 202.93,817.12 205.7,819.38 208.47,821.57 211.24,823.68 214.02,825.72 216.79,827.69 219.56,829.59 222.33,831.44 225.1,833.23 227.87,834.96 230.64,836.64 233.41,838.27 236.19,839.85 238.96,841.38 241.73,842.87 244.5,844.32 247.27,845.72 250.04,847.09 252.81,848.42 255.58,849.72 258.35,850.98 261.13,852.2 263.9,853.4 266.67,854.56 269.44,855.7 272.21,856.81 274.98,857.89 277.75,858.94 280.52,859.97 283.3,860.98 286.07,861.96 288.84,862.91 291.61,863.85 294.38,864.76 297.15,865.66 299.92,866.53 302.69,867.39 305.47,868.23 308.24,869.05 311.01,869.85 313.78,870.63 316.55,871.4 319.32,872.15 322.09,872.89 324.86,873.61 327.64,874.32 330.41,875.02 333.18,875.7 335.95,876.36 338.72,877.02 341.49,877.66 344.26,878.29 347.03,878.91 349.8,879.52 352.58,880.11 355.35,880.7 358.12,881.27 360.89,881.84 363.66,882.39 366.43,882.94 369.2,883.47 371.97,884 374.75,884.52 377.52,885.02 380.29,885.52 383.06,886.02 385.83,886.5 388.6,886.98 391.37,887.44 394.14,887.9 396.92,888.36 399.69,888.8 402.46,889.24 405.23,889.67 408,890.1" fill="none" stroke="#7c0000" stroke-width="3.5" stroke-linejoin="round" stroke-linecap="round"/><polyline transform="scale(0.8,1)" points="51.47,860.29 64.02,791.19 121.74,791.19 124.6,797.04 127.46,802.46 130.33,807.5 133.19,812.2 136.05,816.58 138.91,820.68 141.78,824.53 144.64,828.14 147.5,831.55 150.36,834.76 153.23,837.79 156.09,840.66 158.95,843.39 161.81,845.97 164.68,848.42 167.54,850.76 170.4,852.98 173.26,855.1 176.13,857.13 178.99,859.06 181.85,860.92 184.72,862.69 187.58,864.39 190.44,866.02 193.3,867.59 196.17,869.09 199.03,870.54 201.89,871.93 204.75,873.27 207.62,874.57 210.48,875.81 213.34,877.02 216.2,878.18 219.07,879.3 221.93,880.39 224.79,881.44 227.65,882.46 230.52,883.44 233.38,884.39 236.24,885.32 239.11,886.21 241.97,887.08 244.83,887.93 247.69,888.75 250.56,889.55 253.42,890.32 256.28,891.07 259.14,891.8 262.01,892.52 264.87,893.21 267.73,893.89 270.59,894.54 273.46,895.19 276.32,895.81 279.18,896.42 282.04,897.01 284.91,897.59 287.77,898.16 290.63,898.71 293.5,899.25 296.36,899.78 299.22,900.29 302.08,900.8 304.95,901.29 307.81,901.77 310.67,902.24 313.53,902.7 316.4,903.15 319.26,903.59 322.12,904.02 324.98,904.45 327.85,904.86 330.71,905.27 333.57,905.66 336.43,906.05 339.3,906.43 342.16,906.81 345.02,907.18 347.88,907.54 350.75,907.89 353.61,908.24 356.47,908.58 359.34,908.91 362.2,909.24 365.06,909.56 367.92,909.87 370.79,910.19 373.65,910.49 376.51,910.79 379.37,911.08 382.24,911.37 385.1,911.66 387.96,911.94 390.82,912.21 393.69,912.48 396.55,912.75 399.41,913.01 402.27,913.27 405.14,913.52 408,913.77" fill="none" stroke="#0000ff" stroke-width="3.5" stroke-linejoin="round" stroke-linecap="round"/><rect x="154.6" y="740" width="153.4" height="37.1" fill="#fff" stroke="#2e2e2e" stroke-width="1.3"/><line x1="160.95" y1="753.1" x2="176.65" y2="753.1" stroke="#0000ff" stroke-width="3.7" stroke-linecap="round"/><line x1="160.95" y1="765.2" x2="176.65" y2="765.2" stroke="#7c0000" stroke-width="3.7" stroke-linecap="round"/><text x="182.61" y="756" font-family='"Liberation Sans", sans-serif' font-size="10.17" font-weight="normal" fill="#1e1e1e" stroke="#1e1e1e" stroke-width="0.25" textLength="113.83" lengthAdjust="spacingAndGlyphs">Response Spectra for 475 Years</text><text x="182.6" y="768.1" font-family='"Liberation Sans", sans-serif' font-size="10.17" font-weight="normal" fill="#1e1e1e" stroke="#1e1e1e" stroke-width="0.25" textLength="118.83" lengthAdjust="spacingAndGlyphs">Response Spectra for 2475 Years</text><text x="197.4" y="840.49" font-family='"Liberation Serif", serif' font-size="11.54" font-weight="bold" fill="#111" stroke="#111" stroke-width="0.25" textLength="40.81" lengthAdjust="spacingAndGlyphs">2475 Yrs</text><text x="126.11" y="893.99" font-family='"Liberation Serif", serif' font-size="12.22" font-weight="bold" fill="#111" stroke="#111" stroke-width="0.25" textLength="34.5" lengthAdjust="spacingAndGlyphs">475 Yrs</text><text x="152.17" y="982.79" font-family='"Liberation Sans", sans-serif' font-size="10.23" font-weight="normal" fill="#1e1e1e" stroke="#1e1e1e" stroke-width="0.25" textLength="61.1" lengthAdjust="spacingAndGlyphs">Natural Period</text><text transform="translate(12.95,896.29) scale(0.78,1) rotate(-90)" x="0" y="0" font-family='"Liberation Sans", sans-serif' font-size="11.92" fill="#1e1e1e" stroke="#1e1e1e" stroke-width="0.25" textLength="152.98" lengthAdjust="spacingAndGlyphs">Spectral Acceleration, SA (g)</text><text x="1.51" y="681.2" font-family='"Liberation Serif", serif' font-size="18.3" fill="#000" textLength="21.18" lengthAdjust="spacingAndGlyphs">(<tspan font-weight="bold">e</tspan>)</text><path d="M366.8 687.5V990.8M380.69 687.5V990.8M394.58 687.5V990.8M408.47 687.5V990.8M422.36 687.5V990.8M436.25 687.5V990.8M450.14 687.5V990.8M464.03 687.5V990.8M477.92 687.5V990.8M491.81 687.5V990.8M505.7 687.5V990.8M519.59 687.5V990.8M533.48 687.5V990.8M547.37 687.5V990.8M561.26 687.5V990.8M575.15 687.5V990.8M589.04 687.5V990.8M602.93 687.5V990.8M616.82 687.5V990.8M630.71 687.5V990.8M644.6 687.5V990.8M658.49 687.5V990.8M672.38 687.5V990.8M366 688.2H685M366 706.49H685M366 724.78H685M366 743.07H685M366 761.36H685M366 779.65H685M366 797.94H685M366 816.23H685M366 834.52H685M366 852.81H685M366 871.1H685M366 889.39H685M366 907.68H685M366 925.97H685M366 944.26H685M366 962.55H685M366 980.84H685" stroke="#e9f9fb" stroke-width="1.3" fill="none"/><rect x="389.4" y="707.4" width="278.8" height="256.3" fill="#fff"/><path d="M389.4 706.9V964.2M668.2 706.9V964.2" stroke="#555" stroke-width="1.05" fill="none"/><path d="M388.9 707.4H668.7M388.9 963.7H668.7" stroke="#2a2a2a" stroke-width="1.3" fill="none"/><path d="M386.2 963.7H389.4M386.2 899.62H389.4M386.2 835.55H389.4M386.2 771.48H389.4M386.2 707.4H389.4" stroke="#333" stroke-width="1.15" fill="none"/><path d="M389.4 963.7V967.1M459.1 963.7V967.1M528.8 963.7V967.1M598.5 963.7V967.1M668.2 963.7V967.1" stroke="#555" stroke-width="1.05" fill="none"/><g font-family='"Liberation Sans", sans-serif' font-size="10" fill="#1e1e1e" stroke="#1e1e1e" stroke-width="0.3"><text x="371.76" y="966.44" textLength="10.9" lengthAdjust="spacingAndGlyphs">0.0</text><text x="371.76" y="902.37" textLength="10.9" lengthAdjust="spacingAndGlyphs">0.5</text><text x="371.76" y="838.29" textLength="10.9" lengthAdjust="spacingAndGlyphs">1.0</text><text x="371.76" y="774.22" textLength="10.9" lengthAdjust="spacingAndGlyphs">1.5</text><text x="371.76" y="710.14" textLength="10.9" lengthAdjust="spacingAndGlyphs">2.0</text></g><g transform="scale(0.82,1)" font-family='"Liberation Sans", sans-serif' font-size="9.8" fill="#1e1e1e" stroke="#1e1e1e" stroke-width="0.3"><text x="474.88" y="980.92" text-anchor="middle">0</text><text x="559.88" y="980.92" text-anchor="middle">1</text><text x="644.88" y="980.92" text-anchor="middle">2</text><text x="729.88" y="980.92" text-anchor="middle">3</text><text x="814.88" y="980.92" text-anchor="middle">4</text></g><text x="473.51" y="911.09" font-family='"Liberation Serif", serif' font-size="12.37" font-weight="bold" fill="#111" stroke="#111" stroke-width="0.25" textLength="33.79" lengthAdjust="spacingAndGlyphs">475 Yrs</text><polyline transform="scale(0.8,1)" points="488.67,848.88 499.99,744.69 553.14,744.69 555.96,753.62 558.78,761.85 561.6,769.45 564.42,776.51 567.24,783.07 570.07,789.19 572.89,794.9 575.71,800.25 578.53,805.28 581.35,810 584.17,814.45 586.99,818.65 589.81,822.62 592.63,826.38 595.46,829.95 598.28,833.33 601.1,836.55 603.92,839.61 606.74,842.53 609.56,845.31 612.38,847.97 615.2,850.51 618.02,852.94 620.85,855.27 623.67,857.51 626.49,859.65 629.31,861.71 632.13,863.69 634.95,865.59 637.77,867.42 640.59,869.19 643.41,870.89 646.24,872.53 649.06,874.12 651.88,875.65 654.7,877.13 657.52,878.56 660.34,879.94 663.16,881.28 665.98,882.58 668.8,883.83 671.63,885.05 674.45,886.24 677.27,887.38 680.09,888.5 682.91,889.58 685.73,890.63 688.55,891.65 691.37,892.64 694.19,893.61 697.02,894.55 699.84,895.47 702.66,896.36 705.48,897.23 708.3,898.07 711.12,898.9 713.94,899.7 716.76,900.49 719.58,901.25 722.41,902 725.23,902.73 728.05,903.44 730.87,904.14 733.69,904.82 736.51,905.49 739.33,906.14 742.15,906.77 744.97,907.39 747.8,908 750.62,908.6 753.44,909.18 756.26,909.75 759.08,910.31 761.9,910.86 764.72,911.39 767.54,911.92 770.36,912.43 773.19,912.94 776.01,913.43 778.83,913.92 781.65,914.4 784.47,914.86 787.29,915.32 790.11,915.77 792.93,916.21 795.75,916.65 798.58,917.07 801.4,917.49 804.22,917.9 807.04,918.3 809.86,918.7 812.68,919.09 815.5,919.47 818.32,919.85 821.14,920.22 823.97,920.58 826.79,920.94 829.61,921.29 832.43,921.64 835.25,921.98" fill="none" stroke="#7c0000" stroke-width="3.5" stroke-linejoin="round" stroke-linecap="round"/><polyline transform="scale(0.8,1)" points="488.67,888.22 499.12,837.47 550.79,837.47 553.63,842.84 556.48,847.77 559.32,852.32 562.17,856.52 565.01,860.41 567.85,864.04 570.7,867.41 573.54,870.57 576.39,873.52 579.23,876.3 582.08,878.91 584.92,881.36 587.77,883.68 590.61,885.87 593.46,887.95 596.3,889.91 599.15,891.78 601.99,893.56 604.83,895.25 607.68,896.86 610.52,898.39 613.37,899.86 616.21,901.26 619.06,902.61 621.9,903.89 624.75,905.12 627.59,906.31 630.44,907.44 633.28,908.54 636.13,909.59 638.97,910.6 641.82,911.57 644.66,912.51 647.5,913.42 650.35,914.29 653.19,915.14 656.04,915.95 658.88,916.74 661.73,917.5 664.57,918.24 667.42,918.96 670.26,919.65 673.11,920.32 675.95,920.98 678.8,921.61 681.64,922.22 684.48,922.82 687.33,923.4 690.17,923.96 693.02,924.51 695.86,925.05 698.71,925.56 701.55,926.07 704.4,926.56 707.24,927.04 710.09,927.51 712.93,927.96 715.78,928.41 718.62,928.84 721.46,929.26 724.31,929.67 727.15,930.08 730,930.47 732.84,930.85 735.69,931.23 738.53,931.6 741.38,931.95 744.22,932.31 747.07,932.65 749.91,932.98 752.76,933.31 755.6,933.63 758.44,933.95 761.29,934.26 764.13,934.56 766.98,934.85 769.82,935.14 772.67,935.43 775.51,935.71 778.36,935.98 781.2,936.25 784.05,936.51 786.89,936.77 789.74,937.02 792.58,937.27 795.43,937.51 798.27,937.75 801.11,937.99 803.96,938.22 806.8,938.44 809.65,938.67 812.49,938.89 815.34,939.1 818.18,939.31 821.03,939.52 823.87,939.72 826.72,939.92 829.56,940.12 832.41,940.31 835.25,940.51" fill="none" stroke="#0000ff" stroke-width="3.5" stroke-linejoin="round" stroke-linecap="round"/><rect x="500.7" y="752.8" width="149" height="38.4" fill="#fff" stroke="#2e2e2e" stroke-width="1.3"/><line x1="506.95" y1="766" x2="523.05" y2="766" stroke="#0000ff" stroke-width="3.7" stroke-linecap="round"/><line x1="506.95" y1="778.55" x2="523.05" y2="778.55" stroke="#7c0000" stroke-width="3.7" stroke-linecap="round"/><text x="527.92" y="768.95" font-family='"Liberation Sans", sans-serif' font-size="10.32" font-weight="normal" fill="#1e1e1e" stroke="#1e1e1e" stroke-width="0.25" textLength="111.81" lengthAdjust="spacingAndGlyphs">Response Spectra for 475 Years</text><text x="527.92" y="781.5" font-family='"Liberation Sans", sans-serif' font-size="10.32" font-weight="normal" fill="#1e1e1e" stroke="#1e1e1e" stroke-width="0.25" textLength="116.41" lengthAdjust="spacingAndGlyphs">Response Spectra for 2475 Years</text><text x="542.71" y="856.39" font-family='"Liberation Serif", serif' font-size="12.14" font-weight="bold" fill="#111" stroke="#111" stroke-width="0.25" textLength="40.2" lengthAdjust="spacingAndGlyphs">2475 Yrs</text><text x="498.69" y="1002.39" font-family='"Liberation Sans", sans-serif' font-size="10.96" font-weight="normal" fill="#1e1e1e" stroke="#1e1e1e" stroke-width="0.25" textLength="59.26" lengthAdjust="spacingAndGlyphs">Natural Period</text><text transform="translate(363.05,913.71) scale(0.75,1) rotate(-90)" x="0" y="0" font-family='"Liberation Sans", sans-serif' font-size="12.25" fill="#1e1e1e" stroke="#1e1e1e" stroke-width="0.25" textLength="157.32" lengthAdjust="spacingAndGlyphs">Spectral Acceleration, SA (g)</text><text x="366.51" y="681.5" font-family='"Liberation Serif", serif' font-size="18.3" fill="#000" textLength="19.08" lengthAdjust="spacingAndGlyphs">(<tspan font-weight="bold">f</tspan>)</text></svg></body></html>
